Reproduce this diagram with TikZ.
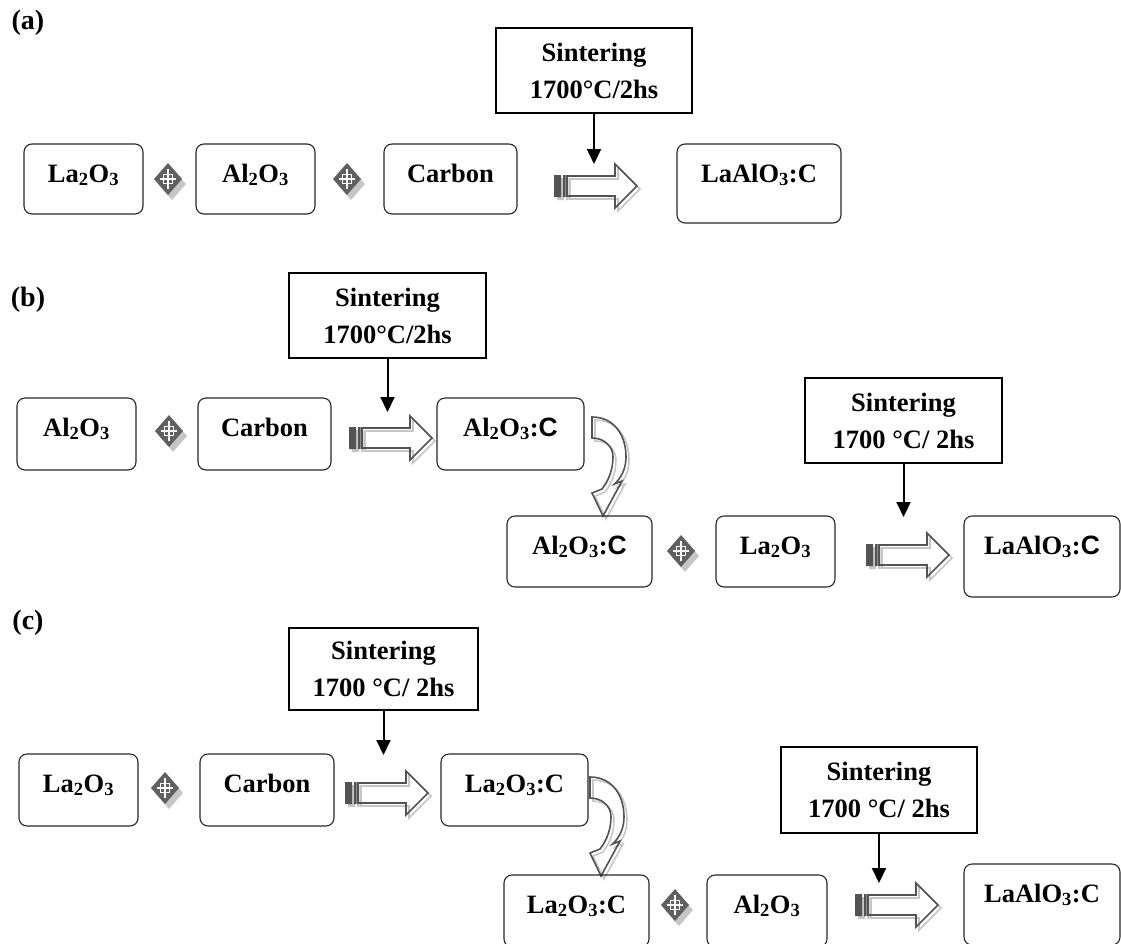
\documentclass[tikz,border=0pt]{standalone}
\usepackage{fontspec}
\setmainfont{Liberation Serif}
\newfontfamily\sansfam{Liberation Sans}
\usetikzlibrary{arrows.meta}

\newcommand{\sC}{{\sansfam C}}

\begin{document}
\begin{tikzpicture}[x=1pt, y=-1pt,
  every node/.style={font=\bfseries\fontsize{26.5}{37}\selectfont, outer sep=0pt},
  mat/.style 2 args={draw=black!85, line width=1.1pt, rounded corners=8pt, anchor=north west, inner sep=0pt,
    minimum width=#1, minimum height=#2, text height=38pt, text depth=#2-38pt},
  sinter/.style 2 args={draw, line width=2.2pt, anchor=north west, inner sep=0pt,
    minimum width=#1, minimum height=#2, align=center},
  heat/.style={line width=2pt, -{Triangle[length=15pt, width=14pt]}},
  tag/.style={font=\bfseries\fontsize{28}{30}\selectfont},
  plusmark/.pic={
    \fill[gray!45] (4,-11) -- (18,5) -- (4,21) -- (-10,5) -- cycle;
    \fill[gray!75!black] (0,-16) -- (14,0) -- (0,16) -- (-14,0) -- cycle;
    \draw[white, line width=1.2pt] (-8,0) -- (8,0) (0,-10) -- (0,10);
    \draw[white, line width=0.8pt] (-4.5,-4.5) rectangle (4.5,4.5);
  },
  blockarrow/.pic={
    \foreach \s/\c in {3/gray!45, 0/gray!65!black}{
      \draw[draw=\c, line width=1.6pt, shift={(\s,\s)}]
        (13,-10) -- (61,-10) -- (61,-22) -- (83,0) -- (61,22) -- (61,10) -- (13,10) -- cycle;
      \fill[fill=\c, shift={(\s,\s)}] (0,-11) rectangle (7,11) (9,-11) rectangle (11.5,11);
    }
  },
  turnarrow/.pic={
    \foreach \s/\c in {3/gray!45, 0/gray!65!black}{
      \draw[draw=\c, line width=1.6pt, shift={(\s,\s)}]
        (0,0) .. controls (22,0) and (34,18) .. (34,40) .. controls (34,52) and (29,61) .. (22.5,67)
        -- (30,64) -- (11,99) -- (0,76) -- (10,72)
        .. controls (17,63) and (21,52) .. (21,40) .. controls (21,29) and (12,21) .. (0,21) -- cycle;
    }
  }]
\useasboundingbox (0,0) rectangle (1121,943);

% (a)
\node[tag] (laba) at (28,23) {(a)};
\node[sinter={196pt}{85pt}] (sina) at (496,28) {Sintering\\1700°C/2hs};
\coordinate (hta) at (594,164);
\draw[heat] (sina) -- (sina |- hta);
\node[mat={119pt}{70pt}] (a1) at (24,144) {La\textsubscript{2}O\textsubscript{3}};
\pic at (168,179) {plusmark};
\node[mat={119pt}{70pt}] (a2) at (196,144) {Al\textsubscript{2}O\textsubscript{3}};
\pic at (347,179) {plusmark};
\node[mat={133pt}{70pt}] (a3) at (384,144) {Carbon};
\pic at (554,186) {blockarrow};
\node[mat={164pt}{79pt}] (a4) at (677,144) {LaAlO\textsubscript{3}:C};

% (b)
\node[tag] (labb) at (28,300) {(b)};
\node[sinter={197pt}{85pt}] (sinb) at (289,273) {Sintering\\1700°C/2hs};
\coordinate (htb) at (388,412);
\draw[heat] (sinb) -- (sinb |- htb);
\node[mat={119pt}{72pt}] (b1) at (17,398) {Al\textsubscript{2}O\textsubscript{3}};
\pic at (169,431) {plusmark};
\node[mat={133pt}{72pt}] (b2) at (198,398) {Carbon};
\pic at (349,438) {blockarrow};
\node[mat={147pt}{72pt}] (b3) at (437,398) {Al\textsubscript{2}O\textsubscript{3}:\sC};
\pic at (592,417) {turnarrow};
\node[mat={145pt}{71pt}] (b4) at (507,516) {Al\textsubscript{2}O\textsubscript{3}:\sC};
\pic at (681,551) {plusmark};
\node[mat={119pt}{71pt}] (b5) at (716,516) {La\textsubscript{2}O\textsubscript{3}};
\node[sinter={197pt}{85pt}] (sinbb) at (805,378) {Sintering\\1700 °C/ 2hs};
\coordinate (htbb) at (903,517);
\draw[heat] (sinbb) -- (sinbb |- htbb);
\pic at (866,555) {blockarrow};
\node[mat={156pt}{81pt}] (b6) at (964,516) {LaAlO\textsubscript{3}:\sC};

% (c)
\node[tag] (labc) at (28,623) {(c)};
\node[sinter={189pt}{82pt}] (sinc) at (289,628) {Sintering\\1700 °C/ 2hs};
\coordinate (htc) at (384,755);
\draw[heat] (sinc) -- (sinc |- htc);
\node[mat={119pt}{72pt}] (c1) at (19,754) {La\textsubscript{2}O\textsubscript{3}};
\pic at (165,788) {plusmark};
\node[mat={134pt}{72pt}] (c2) at (200,754) {Carbon};
\pic at (345,793) {blockarrow};
\node[mat={147pt}{72pt}] (c3) at (441,754) {La\textsubscript{2}O\textsubscript{3}:C};
\pic at (590,777) {turnarrow};
\node[mat={145pt}{72pt}] (c4) at (504,875) {La\textsubscript{2}O\textsubscript{3}:C};
\pic at (675,905) {plusmark};
\node[mat={120pt}{72pt}] (c5) at (707,875) {Al\textsubscript{2}O\textsubscript{3}};
\node[sinter={196pt}{86pt}] (sincc) at (781,747) {Sintering\\1700 °C/ 2hs};
\coordinate (htcc) at (879,883);
\draw[heat] (sincc) -- (sincc |- htcc);
\pic at (855,905) {blockarrow};
\node[mat={156pt}{81pt}] (c6) at (964,864) {LaAlO\textsubscript{3}:C};
\end{tikzpicture}
\end{document}
